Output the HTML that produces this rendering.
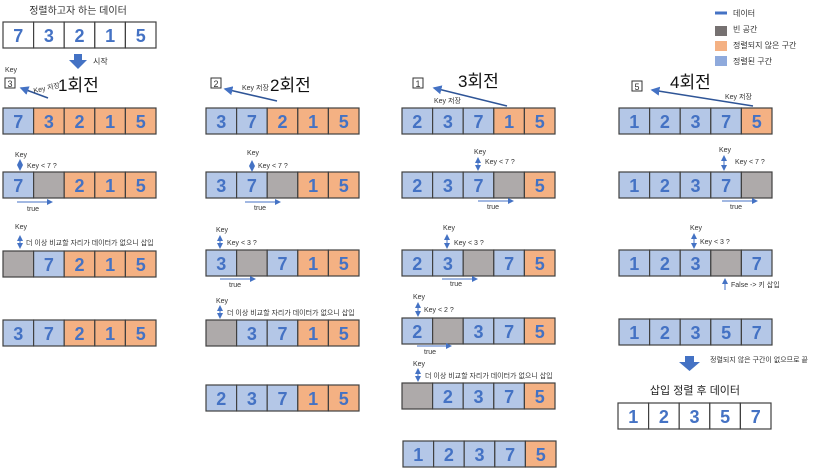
<!DOCTYPE html>
<html><head><meta charset="utf-8"><style>
html,body{margin:0;padding:0;background:#fff;}
svg{display:block;font-family:"Liberation Sans","Noto Sans CJK KR",sans-serif;}
.d{font-size:18px;fill:#4472c4;text-anchor:middle;font-weight:bold;}
.s{font-size:7px;fill:#333;}
.m{font-size:8px;fill:#333;}
.t{font-size:17px;fill:#111;}
rect.c{stroke:#404040;stroke-width:1.2;}
.B{fill:#b4c7e7}.O{fill:#f4b183}.G{fill:#aeaaaa}.W{fill:#fff}
</style></head><body>
<svg width="820" height="473" viewBox="0 0 820 473">
<defs>
<marker id="ah" markerWidth="6" markerHeight="6" refX="5" refY="3" orient="auto"><path d="M0,0L6,3L0,6z" fill="#4472c4"/></marker>
<marker id="as" markerWidth="6" markerHeight="6" refX="5" refY="3" orient="auto-start-reverse"><path d="M0,0L6,3L0,6z" fill="#4472c4"/></marker>
</defs>

<!-- top -->
<text x="78" y="14" class="m" font-size="10" text-anchor="middle" style="font-size:10px">정렬하고자 하는 데이터</text>
<g transform="translate(3,22)">
<rect class="c W" x="0" y="0" width="30.6" height="26"/><rect class="c W" x="30.6" y="0" width="30.6" height="26"/><rect class="c W" x="61.2" y="0" width="30.6" height="26"/><rect class="c W" x="91.8" y="0" width="30.6" height="26"/><rect class="c W" x="122.4" y="0" width="30.6" height="26"/>
<text class="d" x="15.3" y="20">7</text><text class="d" x="45.9" y="20">3</text><text class="d" x="76.5" y="20">2</text><text class="d" x="107.1" y="20">1</text><text class="d" x="137.7" y="20">5</text></g>
<path d="M74,54h8v6h5l-9,9l-9,-9h5z" fill="#4472c4"/>
<text x="93" y="64" class="m">시작</text>

<!-- legend -->
<line x1="715" y1="13" x2="727" y2="13" stroke="#4472c4" stroke-width="3"/>
<text x="733" y="16" class="m">데이터</text>
<rect x="715" y="26" width="12" height="10" fill="#767171"/><text x="733" y="32" class="m">빈 공간</text>
<rect x="715" y="41" width="12" height="10" fill="#f4b183"/><text x="733" y="48" class="m">정렬되지 않은 구간</text>
<rect x="715" y="56" width="12" height="10" fill="#8faadc"/><text x="733" y="64" class="m">정렬된 구간</text>

<!-- titles & key boxes -->
<text x="58" y="91" class="t">1회전</text>
<text x="5" y="72" class="s">Key</text>
<rect x="5" y="78" width="10" height="10" fill="#fff" stroke="#333"/><text x="10" y="87" class="s" text-anchor="middle" style="font-size:9px">3</text>
<line x1="48" y1="98" x2="21" y2="88" stroke="#2f5597" stroke-width="1.5" marker-end="url(#ah)"/>
<text x="34" y="93" class="s" transform="rotate(-12 34 93)">Key 저장</text>

<text x="270" y="91" class="t">2회전</text>
<rect x="211" y="78" width="10" height="10" fill="#fff" stroke="#333"/><text x="216" y="87" class="s" text-anchor="middle" style="font-size:9px">2</text>
<line x1="277" y1="101" x2="225" y2="89" stroke="#2f5597" stroke-width="1.5" marker-end="url(#ah)"/>
<text x="242" y="90" class="s">Key 저장</text>

<text x="458" y="87" class="t">3회전</text>
<rect x="413" y="78" width="10" height="10" fill="#fff" stroke="#333"/><text x="418" y="87" class="s" text-anchor="middle" style="font-size:9px">1</text>
<line x1="507" y1="106" x2="434" y2="88" stroke="#2f5597" stroke-width="1.5" marker-end="url(#ah)"/>
<text x="434" y="103" class="s">Key 저장</text>

<text x="670" y="88" class="t">4회전</text>
<rect x="632" y="81" width="10" height="10" fill="#fff" stroke="#333"/><text x="637" y="90" class="s" text-anchor="middle" style="font-size:9px">5</text>
<line x1="753" y1="106" x2="652" y2="90" stroke="#2f5597" stroke-width="1.5" marker-end="url(#ah)"/>
<text x="725" y="99" class="s">Key 저장</text>

<!-- ROWS -->
<!-- C1R1 -->
<g transform="translate(3,108)"><rect class="c B" x="0" y="0" width="30.6" height="26"/><rect class="c O" x="30.6" y="0" width="30.6" height="26"/><rect class="c O" x="61.2" y="0" width="30.6" height="26"/><rect class="c O" x="91.8" y="0" width="30.6" height="26"/><rect class="c O" x="122.4" y="0" width="30.6" height="26"/>
<text class="d" x="15.3" y="20">7</text><text class="d" x="45.9" y="20">3</text><text class="d" x="76.5" y="20">2</text><text class="d" x="107.1" y="20">1</text><text class="d" x="137.7" y="20">5</text></g>
<!-- C1R2 -->
<g transform="translate(3,172)"><rect class="c B" x="0" y="0" width="30.6" height="26"/><rect class="c G" x="30.6" y="0" width="30.6" height="26"/><rect class="c O" x="61.2" y="0" width="30.6" height="26"/><rect class="c O" x="91.8" y="0" width="30.6" height="26"/><rect class="c O" x="122.4" y="0" width="30.6" height="26"/>
<text class="d" x="15.3" y="20">7</text><text class="d" x="76.5" y="20">2</text><text class="d" x="107.1" y="20">1</text><text class="d" x="137.7" y="20">5</text></g>
<!-- C1R3 -->
<g transform="translate(3,251)"><rect class="c G" x="0" y="0" width="30.6" height="26"/><rect class="c B" x="30.6" y="0" width="30.6" height="26"/><rect class="c O" x="61.2" y="0" width="30.6" height="26"/><rect class="c O" x="91.8" y="0" width="30.6" height="26"/><rect class="c O" x="122.4" y="0" width="30.6" height="26"/>
<text class="d" x="45.9" y="20">7</text><text class="d" x="76.5" y="20">2</text><text class="d" x="107.1" y="20">1</text><text class="d" x="137.7" y="20">5</text></g>
<!-- C1R4 -->
<g transform="translate(3,320)"><rect class="c B" x="0" y="0" width="30.6" height="26"/><rect class="c B" x="30.6" y="0" width="30.6" height="26"/><rect class="c O" x="61.2" y="0" width="30.6" height="26"/><rect class="c O" x="91.8" y="0" width="30.6" height="26"/><rect class="c O" x="122.4" y="0" width="30.6" height="26"/>
<text class="d" x="15.3" y="20">3</text><text class="d" x="45.9" y="20">7</text><text class="d" x="76.5" y="20">2</text><text class="d" x="107.1" y="20">1</text><text class="d" x="137.7" y="20">5</text></g>

<!-- C2R1 -->
<g transform="translate(206,108)"><rect class="c B" x="0" y="0" width="30.6" height="26"/><rect class="c B" x="30.6" y="0" width="30.6" height="26"/><rect class="c O" x="61.2" y="0" width="30.6" height="26"/><rect class="c O" x="91.8" y="0" width="30.6" height="26"/><rect class="c O" x="122.4" y="0" width="30.6" height="26"/>
<text class="d" x="15.3" y="20">3</text><text class="d" x="45.9" y="20">7</text><text class="d" x="76.5" y="20">2</text><text class="d" x="107.1" y="20">1</text><text class="d" x="137.7" y="20">5</text></g>
<!-- C2R2 -->
<g transform="translate(206,172)"><rect class="c B" x="0" y="0" width="30.6" height="26"/><rect class="c B" x="30.6" y="0" width="30.6" height="26"/><rect class="c G" x="61.2" y="0" width="30.6" height="26"/><rect class="c O" x="91.8" y="0" width="30.6" height="26"/><rect class="c O" x="122.4" y="0" width="30.6" height="26"/>
<text class="d" x="15.3" y="20">3</text><text class="d" x="45.9" y="20">7</text><text class="d" x="107.1" y="20">1</text><text class="d" x="137.7" y="20">5</text></g>
<!-- C2R3 -->
<g transform="translate(206,250)"><rect class="c B" x="0" y="0" width="30.6" height="26"/><rect class="c G" x="30.6" y="0" width="30.6" height="26"/><rect class="c B" x="61.2" y="0" width="30.6" height="26"/><rect class="c O" x="91.8" y="0" width="30.6" height="26"/><rect class="c O" x="122.4" y="0" width="30.6" height="26"/>
<text class="d" x="15.3" y="20">3</text><text class="d" x="76.5" y="20">7</text><text class="d" x="107.1" y="20">1</text><text class="d" x="137.7" y="20">5</text></g>
<!-- C2R4 -->
<g transform="translate(206,320)"><rect class="c G" x="0" y="0" width="30.6" height="26"/><rect class="c B" x="30.6" y="0" width="30.6" height="26"/><rect class="c B" x="61.2" y="0" width="30.6" height="26"/><rect class="c O" x="91.8" y="0" width="30.6" height="26"/><rect class="c O" x="122.4" y="0" width="30.6" height="26"/>
<text class="d" x="45.9" y="20">3</text><text class="d" x="76.5" y="20">7</text><text class="d" x="107.1" y="20">1</text><text class="d" x="137.7" y="20">5</text></g>
<!-- C2R5 -->
<g transform="translate(206,385)"><rect class="c B" x="0" y="0" width="30.6" height="26"/><rect class="c B" x="30.6" y="0" width="30.6" height="26"/><rect class="c B" x="61.2" y="0" width="30.6" height="26"/><rect class="c O" x="91.8" y="0" width="30.6" height="26"/><rect class="c O" x="122.4" y="0" width="30.6" height="26"/>
<text class="d" x="15.3" y="20">2</text><text class="d" x="45.9" y="20">3</text><text class="d" x="76.5" y="20">7</text><text class="d" x="107.1" y="20">1</text><text class="d" x="137.7" y="20">5</text></g>

<!-- C3R1 -->
<g transform="translate(402,108)"><rect class="c B" x="0" y="0" width="30.6" height="26"/><rect class="c B" x="30.6" y="0" width="30.6" height="26"/><rect class="c B" x="61.2" y="0" width="30.6" height="26"/><rect class="c O" x="91.8" y="0" width="30.6" height="26"/><rect class="c O" x="122.4" y="0" width="30.6" height="26"/>
<text class="d" x="15.3" y="20">2</text><text class="d" x="45.9" y="20">3</text><text class="d" x="76.5" y="20">7</text><text class="d" x="107.1" y="20">1</text><text class="d" x="137.7" y="20">5</text></g>
<!-- C3R2 -->
<g transform="translate(402,172)"><rect class="c B" x="0" y="0" width="30.6" height="26"/><rect class="c B" x="30.6" y="0" width="30.6" height="26"/><rect class="c B" x="61.2" y="0" width="30.6" height="26"/><rect class="c G" x="91.8" y="0" width="30.6" height="26"/><rect class="c O" x="122.4" y="0" width="30.6" height="26"/>
<text class="d" x="15.3" y="20">2</text><text class="d" x="45.9" y="20">3</text><text class="d" x="76.5" y="20">7</text><text class="d" x="137.7" y="20">5</text></g>
<!-- C3R3 -->
<g transform="translate(402,250)"><rect class="c B" x="0" y="0" width="30.6" height="26"/><rect class="c B" x="30.6" y="0" width="30.6" height="26"/><rect class="c G" x="61.2" y="0" width="30.6" height="26"/><rect class="c B" x="91.8" y="0" width="30.6" height="26"/><rect class="c O" x="122.4" y="0" width="30.6" height="26"/>
<text class="d" x="15.3" y="20">2</text><text class="d" x="45.9" y="20">3</text><text class="d" x="107.1" y="20">7</text><text class="d" x="137.7" y="20">5</text></g>
<!-- C3R4 -->
<g transform="translate(402,318)"><rect class="c B" x="0" y="0" width="30.6" height="26"/><rect class="c G" x="30.6" y="0" width="30.6" height="26"/><rect class="c B" x="61.2" y="0" width="30.6" height="26"/><rect class="c B" x="91.8" y="0" width="30.6" height="26"/><rect class="c O" x="122.4" y="0" width="30.6" height="26"/>
<text class="d" x="15.3" y="20">2</text><text class="d" x="76.5" y="20">3</text><text class="d" x="107.1" y="20">7</text><text class="d" x="137.7" y="20">5</text></g>
<!-- C3R5 -->
<g transform="translate(402,383)"><rect class="c G" x="0" y="0" width="30.6" height="26"/><rect class="c B" x="30.6" y="0" width="30.6" height="26"/><rect class="c B" x="61.2" y="0" width="30.6" height="26"/><rect class="c B" x="91.8" y="0" width="30.6" height="26"/><rect class="c O" x="122.4" y="0" width="30.6" height="26"/>
<text class="d" x="45.9" y="20">2</text><text class="d" x="76.5" y="20">3</text><text class="d" x="107.1" y="20">7</text><text class="d" x="137.7" y="20">5</text></g>
<!-- C3R6 -->
<g transform="translate(403,441)"><rect class="c B" x="0" y="0" width="30.6" height="26"/><rect class="c B" x="30.6" y="0" width="30.6" height="26"/><rect class="c B" x="61.2" y="0" width="30.6" height="26"/><rect class="c B" x="91.8" y="0" width="30.6" height="26"/><rect class="c O" x="122.4" y="0" width="30.6" height="26"/>
<text class="d" x="15.3" y="20">1</text><text class="d" x="45.9" y="20">2</text><text class="d" x="76.5" y="20">3</text><text class="d" x="107.1" y="20">7</text><text class="d" x="137.7" y="20">5</text></g>

<!-- C4R1 -->
<g transform="translate(619,108)"><rect class="c B" x="0" y="0" width="30.6" height="26"/><rect class="c B" x="30.6" y="0" width="30.6" height="26"/><rect class="c B" x="61.2" y="0" width="30.6" height="26"/><rect class="c B" x="91.8" y="0" width="30.6" height="26"/><rect class="c O" x="122.4" y="0" width="30.6" height="26"/>
<text class="d" x="15.3" y="20">1</text><text class="d" x="45.9" y="20">2</text><text class="d" x="76.5" y="20">3</text><text class="d" x="107.1" y="20">7</text><text class="d" x="137.7" y="20">5</text></g>
<!-- C4R2 -->
<g transform="translate(619,172)"><rect class="c B" x="0" y="0" width="30.6" height="26"/><rect class="c B" x="30.6" y="0" width="30.6" height="26"/><rect class="c B" x="61.2" y="0" width="30.6" height="26"/><rect class="c B" x="91.8" y="0" width="30.6" height="26"/><rect class="c G" x="122.4" y="0" width="30.6" height="26"/>
<text class="d" x="15.3" y="20">1</text><text class="d" x="45.9" y="20">2</text><text class="d" x="76.5" y="20">3</text><text class="d" x="107.1" y="20">7</text></g>
<!-- C4R3 -->
<g transform="translate(619,250)"><rect class="c B" x="0" y="0" width="30.6" height="26"/><rect class="c B" x="30.6" y="0" width="30.6" height="26"/><rect class="c B" x="61.2" y="0" width="30.6" height="26"/><rect class="c G" x="91.8" y="0" width="30.6" height="26"/><rect class="c B" x="122.4" y="0" width="30.6" height="26"/>
<text class="d" x="15.3" y="20">1</text><text class="d" x="45.9" y="20">2</text><text class="d" x="76.5" y="20">3</text><text class="d" x="137.7" y="20">7</text></g>
<!-- C4R4 -->
<g transform="translate(619,319)"><rect class="c B" x="0" y="0" width="30.6" height="26"/><rect class="c B" x="30.6" y="0" width="30.6" height="26"/><rect class="c B" x="61.2" y="0" width="30.6" height="26"/><rect class="c B" x="91.8" y="0" width="30.6" height="26"/><rect class="c B" x="122.4" y="0" width="30.6" height="26"/>
<text class="d" x="15.3" y="20">1</text><text class="d" x="45.9" y="20">2</text><text class="d" x="76.5" y="20">3</text><text class="d" x="107.1" y="20">5</text><text class="d" x="137.7" y="20">7</text></g>
<!-- final -->
<path d="M685,356h9v6h6l-10.5,9l-10.5,-9h6z" fill="#4472c4"/>
<text x="710" y="362" class="s">정렬되지 않은 구간이 없으므로 끝</text>
<text x="695" y="394" text-anchor="middle" style="font-size:11px;fill:#222">삽입 정렬 후 데이터</text>
<g transform="translate(618,403)"><rect class="c W" x="0" y="0" width="30.6" height="26"/><rect class="c W" x="30.6" y="0" width="30.6" height="26"/><rect class="c W" x="61.2" y="0" width="30.6" height="26"/><rect class="c W" x="91.8" y="0" width="30.6" height="26"/><rect class="c W" x="122.4" y="0" width="30.6" height="26"/>
<text class="d" x="15.3" y="20">1</text><text class="d" x="45.9" y="20">2</text><text class="d" x="76.5" y="20">3</text><text class="d" x="107.1" y="20">5</text><text class="d" x="137.7" y="20">7</text></g>

<!-- annotations -->
<g stroke="#4472c4" stroke-width="1" fill="none">
<line x1="20" y1="160" x2="20" y2="170" marker-start="url(#as)" marker-end="url(#ah)"/>
<line x1="17" y1="202" x2="52" y2="202" marker-end="url(#ah)"/>
<line x1="20" y1="236" x2="20" y2="248" marker-start="url(#as)" marker-end="url(#ah)"/>
<line x1="252" y1="161" x2="252" y2="171" marker-start="url(#as)" marker-end="url(#ah)"/>
<line x1="245" y1="202" x2="280" y2="202" marker-end="url(#ah)"/>
<line x1="220" y1="236" x2="220" y2="248" marker-start="url(#as)" marker-end="url(#ah)"/>
<line x1="220" y1="279" x2="255" y2="279" marker-end="url(#ah)"/>
<line x1="220" y1="306" x2="220" y2="318" marker-start="url(#as)" marker-end="url(#ah)"/>
<line x1="478" y1="158" x2="478" y2="170" marker-start="url(#as)" marker-end="url(#ah)"/>
<line x1="478" y1="201" x2="513" y2="201" marker-end="url(#ah)"/>
<line x1="447" y1="235" x2="447" y2="248" marker-start="url(#as)" marker-end="url(#ah)"/>
<line x1="442" y1="279" x2="477" y2="279" marker-end="url(#ah)"/>
<line x1="418" y1="303" x2="418" y2="316" marker-start="url(#as)" marker-end="url(#ah)"/>
<line x1="417" y1="346" x2="451" y2="346" marker-end="url(#ah)"/>
<line x1="418" y1="369" x2="418" y2="381" marker-start="url(#as)" marker-end="url(#ah)"/>
<line x1="724" y1="156" x2="724" y2="170" marker-start="url(#as)" marker-end="url(#ah)"/>
<line x1="722" y1="201" x2="757" y2="201" marker-end="url(#ah)"/>
<line x1="694" y1="234" x2="694" y2="248" marker-start="url(#as)" marker-end="url(#ah)"/>
<line x1="725" y1="290" x2="725" y2="279" marker-end="url(#ah)"/>
</g>
<g class="s">
<text x="15" y="157" class="s">Key</text><text x="27" y="168" class="s">Key &lt; 7 ?</text><text x="27" y="211" class="s">true</text>
<text x="15" y="229" class="s">Key</text><text x="26" y="245" class="s">더 이상 비교할 자리가 데이터가 없으니 삽입</text>
<text x="247" y="155" class="s">Key</text><text x="258" y="168" class="s">Key &lt; 7 ?</text><text x="254" y="210" class="s">true</text>
<text x="216" y="232" class="s">Key</text><text x="227" y="245" class="s">Key &lt; 3 ?</text><text x="229" y="287" class="s">true</text>
<text x="216" y="303" class="s">Key</text><text x="227" y="315" class="s">더 이상 비교할 자리가 데이터가 없으니 삽입</text>
<text x="474" y="154" class="s">Key</text><text x="485" y="164" class="s">Key &lt; 7 ?</text><text x="487" y="209" class="s">true</text>
<text x="443" y="230" class="s">Key</text><text x="454" y="245" class="s">Key &lt; 3 ?</text><text x="450" y="286" class="s">true</text>
<text x="413" y="299" class="s">Key</text><text x="424" y="312" class="s">Key &lt; 2 ?</text><text x="424" y="354" class="s">true</text>
<text x="413" y="366" class="s">Key</text><text x="425" y="378" class="s">더 이상 비교할 자리가 데이터가 없으니 삽입</text>
<text x="719" y="152" class="s">Key</text><text x="735" y="164" class="s">Key &lt; 7 ?</text><text x="730" y="209" class="s">true</text>
<text x="690" y="230" class="s">Key</text><text x="700" y="244" class="s">Key &lt; 3 ?</text>
<text x="731" y="287" class="s">False -&gt; 키 삽입</text>
</g>
</svg>
</body></html>
